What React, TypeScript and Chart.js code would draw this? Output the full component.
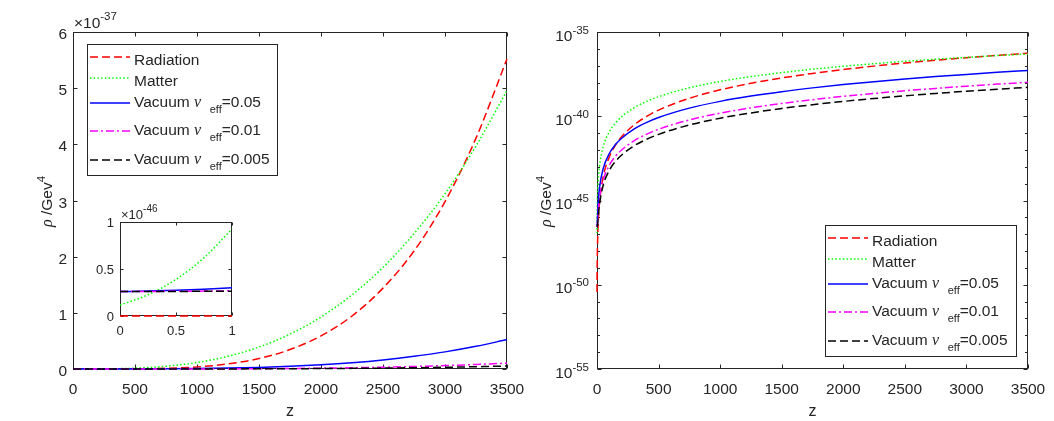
import { useEffect, useRef } from "react";
import { Chart, registerables } from "chart.js";

Chart.register(...registerables);

// redshift samples shared by both panels
const zValues = [0, 1, 2, 5, 10, 20, 50, 100, 150, 200, 300, 400, 500, 750, 1000, 1250, 1500, 1750, 2000, 2250, 2500, 2750, 3000, 3250, 3500];

// energy densities in GeV^4
const radiation = [3.68e-51, 5.88e-50, 2.98e-49, 4.76e-48, 5.38e-47, 7.15e-46, 2.49e-44, 3.82e-43, 1.91e-42, 6.0e-42, 3.02e-41, 9.5e-41, 2.32e-40, 1.17e-39, 3.69e-39, 9.0e-39, 1.87e-38, 3.46e-38, 5.89e-38, 9.44e-38, 1.44e-37, 2.1e-37, 2.98e-37, 4.11e-37, 5.52e-37];
const matter = [1.16e-47, 9.25e-47, 3.12e-46, 2.5e-45, 1.54e-44, 1.07e-43, 1.53e-42, 1.19e-41, 3.98e-41, 9.39e-41, 3.15e-40, 7.45e-40, 1.45e-39, 4.9e-39, 1.16e-38, 2.26e-38, 3.91e-38, 6.21e-38, 9.26e-38, 1.32e-37, 1.81e-37, 2.41e-37, 3.12e-37, 3.97e-37, 4.96e-37];
const vacuum05 = [2.6e-47, 3.01e-47, 4.08e-47, 1.51e-46, 7.98e-46, 5.42e-45, 7.79e-44, 6.15e-43, 2.09e-42, 4.99e-42, 1.73e-41, 4.2e-41, 8.43e-41, 3.03e-40, 7.64e-40, 1.58e-39, 2.89e-39, 4.83e-39, 7.58e-39, 1.13e-38, 1.62e-38, 2.26e-38, 3.05e-38, 4.04e-38, 5.24e-38];
const vacuum01 = [2.6e-47, 2.68e-47, 2.9e-47, 5.09e-47, 1.8e-46, 1.1e-45, 1.56e-44, 1.23e-43, 4.17e-43, 9.99e-43, 3.46e-42, 8.4e-42, 1.69e-41, 6.07e-41, 1.53e-40, 3.16e-40, 5.77e-40, 9.66e-40, 1.52e-39, 2.26e-39, 3.25e-39, 4.51e-39, 6.11e-39, 8.08e-39, 1.05e-38];
const vacuum005 = [2.6e-47, 2.64e-47, 2.75e-47, 3.85e-47, 1.03e-46, 5.65e-46, 7.82e-45, 6.15e-44, 2.09e-43, 4.99e-43, 1.73e-42, 4.2e-42, 8.43e-42, 3.03e-41, 7.64e-41, 1.58e-40, 2.89e-40, 4.83e-40, 7.58e-40, 1.13e-39, 1.62e-39, 2.26e-39, 3.05e-39, 4.04e-39, 5.24e-39];

// inset: 0 <= z <= 1
const insetZ = [0, 0.25, 0.5, 0.75, 1];
const insetRadiation = [3.68e-51, 8.97e-51, 1.86e-50, 3.45e-50, 5.88e-50];
const insetMatter = [1.16e-47, 2.26e-47, 3.9e-47, 6.2e-47, 9.25e-47];
const insetVacuum05 = [2.6e-47, 2.655e-47, 2.737e-47, 2.852e-47, 3.005e-47];
const insetVacuum01 = [2.6e-47, 2.611e-47, 2.627e-47, 2.65e-47, 2.681e-47];
const insetVacuum005 = [2.6e-47, 2.606e-47, 2.614e-47, 2.625e-47, 2.64e-47];

const zTicks = [0, 500, 1000, 1500, 2000, 2500, 3000, 3500];
const linearTicks = [0, 1, 2, 3, 4, 5, 6]; // x 10^-37
const logMajorExps = [-55, -50, -45, -40, -35];
const logMinorExps = [-54, -53, -52, -51, -49, -48, -47, -46, -44, -43, -42, -41, -39, -38, -37, -36];
const insetTicks = [0, 0.5, 1]; // x 10^-46 on y

const seriesLabels = ["Radiation", "Matter", "Vacuum ν_eff=0.05", "Vacuum ν_eff=0.01", "Vacuum ν_eff=0.005"];
const seriesColors = ["#ff0000", "#00ff00", "#0000ff", "#ff00ff", "#000000"];
const seriesDashes = [[8, 4], [1.5, 2.2], [], [8, 3, 2, 3], [8, 4]];

const AXIS = "#262626";
const SANS = "'Liberation Sans', Arial, sans-serif";
const SERIF = "'Liberation Serif', 'DejaVu Serif', serif";
const F_MAIN = `15.5px ${SANS}`;
const F_SUP = `11.5px ${SANS}`;
const F_GREEK = `italic 16px ${SERIF}`;
const F_INSET = `13px ${SANS}`;
const F_INSET_SUP = `10px ${SANS}`;

type Part = { text: string; font: string; dy?: number };

const drawParts = (ctx: CanvasRenderingContext2D, parts: Part[], x: number, y: number, align: "left" | "right" | "center") => {
  let total = 0;
  const widths = parts.map((p) => {
    ctx.font = p.font;
    const w = ctx.measureText(p.text).width;
    total += w;
    return w;
  });
  let cx = align === "left" ? x : align === "right" ? x - total : x - total / 2;
  ctx.textAlign = "left";
  ctx.textBaseline = "alphabetic";
  parts.forEach((p, i) => {
    ctx.font = p.font;
    ctx.fillText(p.text, cx, y + (p.dy || 0));
    cx += widths[i];
  });
};

const legendParts = (label: string): Part[] => {
  const m = label.split("ν_eff");
  if (m.length < 2) return [{ text: label, font: F_MAIN }];
  return [
    { text: m[0], font: F_MAIN },
    { text: "ν", font: F_GREEK },
    { text: "  ", font: F_MAIN },
    { text: "eff", font: `11px ${SANS}`, dy: 6.5 },
    { text: m[1], font: F_MAIN },
  ];
};

type FrameOpts = {
  xTicks: number[];
  xLabels: Part[][];
  yTicks: number[];
  yLabels: Part[][];
  yMinor?: number[];
  tickLen: number;
  minorLen?: number;
  xLabelDy: number;
  yLabelDx: number;
  yLabelDy: number;
  xTitle?: boolean;
  yTitleX?: number;
  multiplier?: { parts: Part[]; dy: number };
  legend?: { x: number; y: number; w: number; h: number };
  fillArea?: boolean;
};

const legendBase = [20.5, 41.5, 62.5, 90.5, 119.5];
const legendLine = [13, 34, 59, 87, 116];

const framePlugin = (o: FrameOpts) => ({
  id: "matlabFrame",
  beforeDraw(chart: any) {
    if (!o.fillArea) return;
    const { ctx, chartArea: a } = chart;
    ctx.save();
    ctx.fillStyle = "#ffffff";
    ctx.fillRect(a.left, a.top, a.right - a.left, a.bottom - a.top);
    ctx.restore();
  },
  beforeDatasetsDraw(chart: any) {
    const { ctx, chartArea: a, scales } = chart;
    const L = Math.round(a.left) + 0.5;
    const R = Math.round(a.right) - 0.5;
    const T = Math.round(a.top) + 0.5;
    const B = Math.round(a.bottom) - 0.5;
    ctx.save();
    ctx.strokeStyle = AXIS;
    ctx.lineWidth = 1;
    ctx.beginPath();
    o.xTicks.forEach((v) => {
      const px = Math.round(scales.x.getPixelForValue(v)) + 0.5;
      ctx.moveTo(px, B);
      ctx.lineTo(px, B - o.tickLen);
      ctx.moveTo(px, T);
      ctx.lineTo(px, T + o.tickLen);
    });
    const yTick = (v: number, len: number) => {
      const py = Math.round(scales.y.getPixelForValue(v)) + 0.5;
      ctx.moveTo(L, py);
      ctx.lineTo(L + len, py);
      ctx.moveTo(R, py);
      ctx.lineTo(R - len, py);
    };
    o.yTicks.forEach((v) => yTick(v, o.tickLen));
    (o.yMinor || []).forEach((v) => yTick(v, o.minorLen || o.tickLen));
    ctx.stroke();
    ctx.strokeRect(L, T, R - L, B - T);
    ctx.restore();
  },
  afterDraw(chart: any) {
    const { ctx, chartArea: a, scales } = chart;
    ctx.save();
    ctx.fillStyle = AXIS;
    o.xTicks.forEach((v, i) => drawParts(ctx, o.xLabels[i], scales.x.getPixelForValue(v), a.bottom + o.xLabelDy, "center"));
    o.yTicks.forEach((v, i) => drawParts(ctx, o.yLabels[i], a.left - o.yLabelDx, scales.y.getPixelForValue(v) + o.yLabelDy, "right"));
    if (o.multiplier) drawParts(ctx, o.multiplier.parts, a.left + 1, a.top + o.multiplier.dy, "left");
    if (o.xTitle) drawParts(ctx, [{ text: "z", font: `16px ${SANS}` }], (a.left + a.right) / 2, a.bottom + 47, "center");
    if (o.yTitleX !== undefined) {
      ctx.save();
      ctx.translate(o.yTitleX, (a.top + a.bottom) / 2 + 1);
      ctx.rotate(-Math.PI / 2);
      drawParts(
        ctx,
        [
          { text: "ρ", font: F_GREEK },
          { text: " /Gev", font: F_MAIN },
          { text: "4", font: F_SUP, dy: -7 },
        ],
        0,
        5.5,
        "center"
      );
      ctx.restore();
    }
    if (o.legend) {
      const lg = o.legend;
      ctx.fillStyle = "#ffffff";
      ctx.fillRect(lg.x, lg.y, lg.w, lg.h);
      ctx.strokeStyle = AXIS;
      ctx.lineWidth = 1;
      ctx.strokeRect(lg.x + 0.5, lg.y + 0.5, lg.w, lg.h);
      chart.data.datasets.forEach((ds: any, i: number) => {
        ctx.save();
        ctx.strokeStyle = ds.borderColor;
        ctx.lineWidth = ds.borderWidth;
        ctx.setLineDash(ds.borderDash || []);
        ctx.beginPath();
        ctx.moveTo(lg.x + 3, lg.y + legendLine[i]);
        ctx.lineTo(lg.x + 43, lg.y + legendLine[i]);
        ctx.stroke();
        ctx.restore();
        ctx.fillStyle = AXIS;
        drawParts(ctx, legendParts(ds.label), lg.x + 47, lg.y + legendBase[i], "left");
      });
    }
    ctx.restore();
  },
});

const lineDatasets = (xs: number[], series: number[][]) =>
  series.map((ys, i) => ({
    label: seriesLabels[i],
    data: xs.map((x, j) => ({ x, y: ys[j] })),
    borderColor: seriesColors[i],
    borderDash: seriesDashes[i],
    borderWidth: 1.5,
    pointRadius: 0,
    fill: false,
    cubicInterpolationMode: "monotone" as const,
    clip: 3,
    order: series.length - i,
  }));

const axis = (type: string, min: number, max: number, ticks: number[], size: number, horizontal: boolean) => ({
  type,
  min,
  max,
  afterBuildTicks: (s: any) => {
    s.ticks = ticks.map((value) => ({ value }));
  },
  afterFit: (s: any) => {
    if (horizontal) s.height = size;
    else s.width = size;
  },
  ticks: { display: false },
  grid: { display: false },
  border: { display: false },
});

const Panel = ({ left, top, width, height, build }: { left: number; top: number; width: number; height: number; build: () => any }) => {
  const canvasRef = useRef<HTMLCanvasElement | null>(null);
  const chartRef = useRef<Chart | null>(null);

  useEffect(() => {
    if (!canvasRef.current) return;
    const ctx = canvasRef.current.getContext("2d");
    if (!ctx) return;
    if (chartRef.current) chartRef.current.destroy();
    chartRef.current = new Chart(ctx, build());
    return () => {
      if (chartRef.current) {
        chartRef.current.destroy();
        chartRef.current = null;
      }
    };
  }, []);

  return (
    <canvas
      ref={canvasRef}
      width={width}
      height={height}
      style={{ position: "absolute", left, top, width, height }}
    />
  );
};

const baseOptions = (padding: any, scales: any) => ({
  responsive: false,
  animation: false as const,
  events: [],
  layout: { padding },
  plugins: { legend: { display: false }, tooltip: { enabled: false } },
  scales,
});

const allSeries = [radiation, matter, vacuum05, vacuum01, vacuum005];
const insetSeries = [insetRadiation, insetMatter, insetVacuum05, insetVacuum01, insetVacuum005];
const zLabels = zTicks.map((v) => [{ text: String(v), font: F_MAIN }]);

const buildLinear = () => ({
  type: "line",
  data: { datasets: lineDatasets(zValues, allSeries) },
  options: baseOptions(
    { left: 0, top: 32, right: 20, bottom: 0 },
    {
      x: axis("linear", 0, 3500, zTicks, 52, true),
      y: axis("linear", 0, 6e-37, linearTicks.map((v) => v * 1e-37), 73, false),
    }
  ),
  plugins: [
    framePlugin({
      xTicks: zTicks,
      xLabels: zLabels,
      yTicks: linearTicks.map((v) => v * 1e-37),
      yLabels: linearTicks.map((v) => [{ text: String(v), font: F_MAIN }]),
      tickLen: 4,
      xLabelDy: 24.5,
      yLabelDx: 6,
      yLabelDy: 7,
      xTitle: true,
      yTitleX: 46,
      multiplier: {
        parts: [
          { text: "×10", font: F_MAIN },
          { text: "-37", font: F_SUP, dy: -8 },
        ],
        dy: -4,
      },
      legend: { x: 87, y: 44, w: 190, h: 131 },
    }),
  ],
});

const buildLog = () => ({
  type: "line",
  data: { datasets: lineDatasets(zValues, allSeries) },
  options: baseOptions(
    { left: 0, top: 32, right: 26, bottom: 0 },
    {
      x: axis("linear", 0, 3500, zTicks, 52, true),
      y: axis(
        "logarithmic",
        1e-55,
        1e-35,
        logMajorExps.map((e) => Math.pow(10, e)),
        70,
        false
      ),
    }
  ),
  plugins: [
    framePlugin({
      xTicks: zTicks,
      xLabels: zLabels,
      yTicks: logMajorExps.map((e) => Math.pow(10, e)),
      yLabels: logMajorExps.map((e) => [
        { text: "10", font: F_MAIN },
        { text: String(e), font: F_SUP, dy: -7 },
      ]),
      yMinor: logMinorExps.map((e) => Math.pow(10, e)),
      tickLen: 4,
      minorLen: 2.5,
      xLabelDy: 24.5,
      yLabelDx: 8,
      yLabelDy: 8.5,
      xTitle: true,
      yTitleX: 18,
      legend: { x: 298, y: 225, w: 191, h: 131 },
    }),
  ],
});

const buildInset = () => ({
  type: "line",
  data: { datasets: lineDatasets(insetZ, insetSeries) },
  options: baseOptions(
    { left: 0, top: 32, right: 18, bottom: 0 },
    {
      x: axis("linear", 0, 1, insetTicks, 34, true),
      y: axis("linear", 0, 1e-46, insetTicks.map((v) => v * 1e-46), 40, false),
    }
  ),
  plugins: [
    framePlugin({
      xTicks: insetTicks,
      xLabels: insetTicks.map((v) => [{ text: String(v), font: F_INSET }]),
      yTicks: insetTicks.map((v) => v * 1e-46),
      yLabels: insetTicks.map((v) => [{ text: String(v), font: F_INSET }]),
      tickLen: 3,
      xLabelDy: 19,
      yLabelDx: 6,
      yLabelDy: 5,
      multiplier: {
        parts: [
          { text: "×10", font: F_INSET },
          { text: "-46", font: F_INSET_SUP, dy: -7 },
        ],
        dy: -3,
      },
      fillArea: true,
    }),
  ],
});

const App = () => (
  <div style={{ position: "fixed", left: 0, top: 0, width: 1054, height: 421, background: "#ffffff", overflow: "hidden" }}>
    <Panel left={0} top={0} width={527} height={421} build={buildLinear} />
    <Panel left={527} top={0} width={527} height={421} build={buildLog} />
    <Panel left={80} top={190} width={170} height={160} build={buildInset} />
  </div>
);

export default App;
